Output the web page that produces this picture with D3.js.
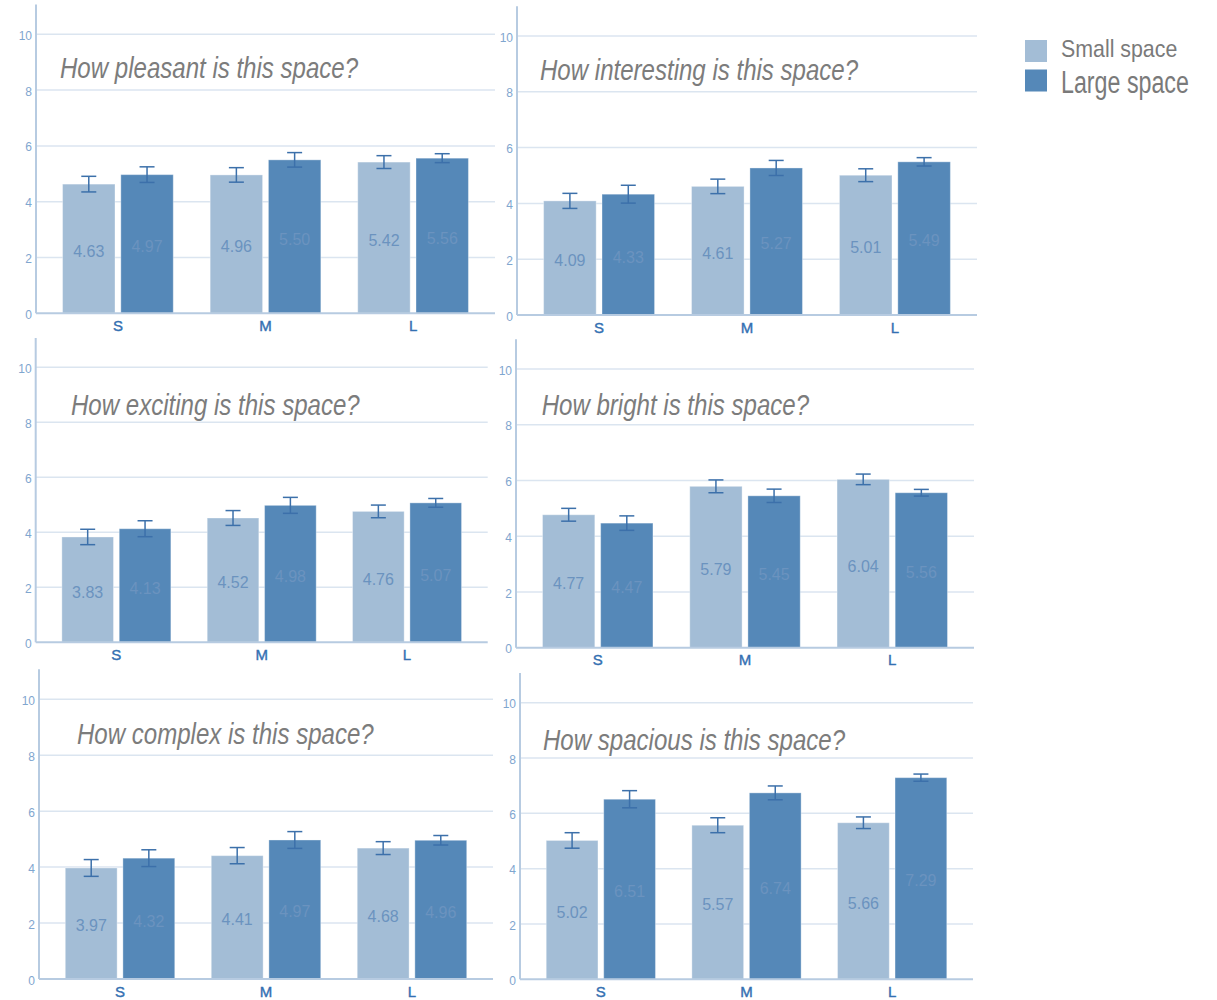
<!DOCTYPE html>
<html>
<head>
<meta charset="utf-8">
<script src="https://cdn.jsdelivr.net/npm/d3@7"></script>
<style>
  html, body { margin: 0; padding: 0; background: #fff; }
  svg { display: block; }
</style>
</head>
<body>
<svg id="chart" width="1217" height="1000"></svg>
<script>
// Room size categories on the x axis
const categories = ["S", "M", "L"];
// The two conditions compared in every panel
const seriesNames = ["Small space", "Large space"];
// One question per panel
const questions = [
  "How pleasant is this space?",
  "How interesting is this space?",
  "How exciting is this space?",
  "How bright is this space?",
  "How complex is this space?",
  "How spacious is this space?"
];
// Mean ratings (S, M, L) per question
const smallMeans = [
  [4.63, 4.96, 5.42],
  [4.09, 4.61, 5.01],
  [3.83, 4.52, 4.76],
  [4.77, 5.79, 6.04],
  [3.97, 4.41, 4.68],
  [5.02, 5.57, 5.66]
];
const largeMeans = [
  [4.97, 5.50, 5.56],
  [4.33, 5.27, 5.49],
  [4.13, 4.98, 5.07],
  [4.47, 5.45, 5.56],
  [4.32, 4.97, 4.96],
  [6.51, 6.74, 7.29]
];
// Standard errors (S, M, L) per question
const smallErrors = [
  [0.28, 0.26, 0.23],
  [0.27, 0.26, 0.23],
  [0.28, 0.27, 0.23],
  [0.23, 0.23, 0.19],
  [0.30, 0.29, 0.23],
  [0.28, 0.27, 0.21]
];
const largeErrors = [
  [0.28, 0.26, 0.16],
  [0.32, 0.27, 0.15],
  [0.29, 0.29, 0.16],
  [0.26, 0.24, 0.12],
  [0.30, 0.30, 0.17],
  [0.31, 0.25, 0.13]
];
// Y axis tick labels
const yTicks = [0, 2, 4, 6, 8, 10];

// Panel placement on the page: axis x, grid right end, pixel rows for 0 and 10, title anchor
const panelLayout = [
  { ax: 36,    right: 495,   y0: 313.3, y10: 34.3,  tx: 60,    ty: 77.5 },
  { ax: 517,   right: 977,   y0: 315,   y10: 36,    tx: 540,   ty: 80 },
  { ax: 35.7,  right: 487.7, y0: 642.3, y10: 367.3, tx: 71,    ty: 415 },
  { ax: 516,   right: 974,   y0: 647.7, y10: 369,   tx: 541.7, ty: 415 },
  { ax: 39,    right: 493,   y0: 979,   y10: 699.3, tx: 77,    ty: 743.5 },
  { ax: 520,   right: 973,   y0: 979.3, y10: 702.7, tx: 543,   ty: 750 }
];

const colors = { small: "#a3bdd6", large: "#5588b8" };
const axisColor = "#b7cbe1";
const gridColor = "#dbe5f0";
const errColor = "#3c70aa";
const valueColor = "#6b93bf";
const titleColor = "#7c7c7c";

const svg = d3.select("#chart");

panelLayout.forEach((L, i) => {
  const g = svg.append("g");

  const y = d3.scaleLinear().domain([0, 10]).range([L.y0, L.y10]);
  const x = d3.scaleBand().domain(categories).range([L.ax, L.right])
    .paddingInner(0.25).paddingOuter(0.18);
  const x1 = d3.scaleBand().domain(seriesNames).range([0, x.bandwidth()])
    .paddingInner(0.1).paddingOuter(0);
  const color = d3.scaleOrdinal().domain(seriesNames).range([colors.small, colors.large]);

  // horizontal grid lines
  g.selectAll("line.grid").data(yTicks.filter(t => t > 0)).join("line")
    .attr("x1", L.ax).attr("x2", L.right)
    .attr("y1", d => y(d)).attr("y2", d => y(d))
    .attr("stroke", gridColor).attr("stroke-width", 1.5);

  // y tick labels
  const yAxis = g.append("g")
    .attr("transform", `translate(${L.ax},0)`)
    .call(d3.axisLeft(y).tickValues(yTicks).tickSize(0).tickPadding(4));
  yAxis.select(".domain").remove();
  yAxis.selectAll("text")
    .attr("fill", "#7fa6cf")
    .attr("font-family", "Liberation Sans, Arial, sans-serif")
    .attr("font-size", 12)
    .attr("dy", "0.42em");

  // title
  g.append("text")
    .attr("transform", `translate(${L.tx},${L.ty}) scale(0.83,1)`)
    .attr("font-family", "Liberation Sans, Arial, sans-serif")
    .attr("font-style", "italic")
    .attr("font-size", 29)
    .attr("fill", titleColor)
    .text(questions[i]);

  // bars
  const rows = categories.map((c, k) => ({
    cat: c,
    values: [
      { name: seriesNames[0], mean: smallMeans[i][k], err: smallErrors[i][k] },
      { name: seriesNames[1], mean: largeMeans[i][k], err: largeErrors[i][k] }
    ]
  }));

  const groups = g.selectAll("g.group").data(rows).join("g")
    .attr("transform", d => `translate(${x(d.cat)},0)`);

  groups.selectAll("rect").data(d => d.values).join("rect")
    .attr("x", d => x1(d.name))
    .attr("width", x1.bandwidth())
    .attr("y", d => y(d.mean))
    .attr("height", d => y(0) - y(d.mean))
    .attr("fill", d => color(d.name))
    .attr("stroke", "#ffffff")
    .attr("stroke-opacity", 0.35)
    .attr("stroke-width", 1);

  // value labels in the middle of each bar
  groups.selectAll("text.val").data(d => d.values).join("text")
    .attr("class", "val")
    .attr("x", d => x1(d.name) + x1.bandwidth() / 2)
    .attr("y", d => (y(0) + y(d.mean)) / 2)
    .attr("dy", "0.5em")
    .attr("text-anchor", "middle")
    .attr("font-family", "Liberation Sans, Arial, sans-serif")
    .attr("font-size", 16)
    .attr("fill", valueColor)
    .text(d => d.mean.toFixed(2));

  // error bars
  const eb = groups.selectAll("g.err").data(d => d.values).join("g")
    .attr("stroke", errColor).attr("stroke-width", 1.5).attr("fill", "none");
  eb.append("line")
    .attr("x1", d => x1(d.name) + x1.bandwidth() / 2)
    .attr("x2", d => x1(d.name) + x1.bandwidth() / 2)
    .attr("y1", d => y(d.mean - d.err))
    .attr("y2", d => y(d.mean + d.err));
  [1, -1].forEach(s => {
    eb.append("line")
      .attr("x1", d => x1(d.name) + x1.bandwidth() / 2 - 7.5)
      .attr("x2", d => x1(d.name) + x1.bandwidth() / 2 + 7.5)
      .attr("y1", d => y(d.mean + s * d.err))
      .attr("y2", d => y(d.mean + s * d.err));
  });

  // axis lines
  g.append("line")
    .attr("x1", L.ax).attr("x2", L.ax)
    .attr("y1", y(0)).attr("y2", y(11.07))
    .attr("stroke", axisColor).attr("stroke-width", 2);
  g.append("line")
    .attr("x1", L.ax).attr("x2", L.right)
    .attr("y1", y(0)).attr("y2", y(0))
    .attr("stroke", axisColor).attr("stroke-width", 2);

  // category labels
  const xAxis = g.append("g")
    .attr("transform", `translate(0,${y(0)})`)
    .call(d3.axisBottom(x).tickSize(0).tickPadding(7));
  xAxis.select(".domain").remove();
  xAxis.selectAll("text")
    .attr("fill", "#3470b2")
    .attr("stroke", "#3470b2")
    .attr("stroke-width", 0.4)
    .attr("font-family", "Liberation Sans, Arial, sans-serif")
    .attr("font-size", 15);
});

// legend
const defs = svg.append("defs");
defs.append("filter").attr("id", "soft")
  .append("feGaussianBlur").attr("stdDeviation", 0.7);

const legendRows = [
  { name: seriesNames[0], fill: colors.small, y: 40, ty: 57.3, size: 24, sx: 0.89 },
  { name: seriesNames[1], fill: colors.large, y: 69.5, ty: 93.3, size: 31, sx: 0.75 }
];
const legend = svg.append("g");
legend.selectAll("rect").data(legendRows).join("rect")
  .attr("x", 1025).attr("y", d => d.y)
  .attr("width", 22).attr("height", 22)
  .attr("fill", d => d.fill)
  .attr("filter", "url(#soft)");
legend.selectAll("text").data(legendRows).join("text")
  .attr("transform", d => `translate(1061,${d.ty}) scale(${d.sx},1)`)
  .attr("font-family", "Liberation Sans, Arial, sans-serif")
  .attr("font-size", d => d.size)
  .attr("fill", "#7a7a7a")
  .text(d => d.name);
</script>
</body>
</html>
